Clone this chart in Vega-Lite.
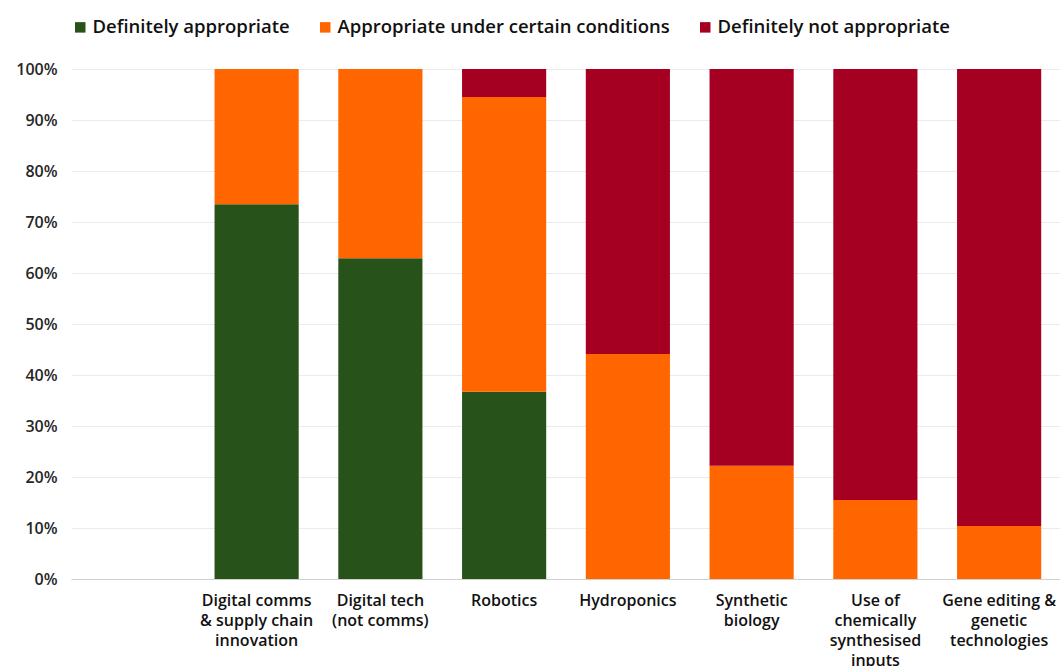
{
  "$schema": "https://vega.github.io/schema/vega-lite/v6.json",
  "width": 990,
  "height": 510,
  "padding": {"left": 15, "top": 18, "right": 0, "bottom": 0},
  "background": "white",
  "data": {
    "values": [
      {"category": "Digital comms & supply chain innovation", "response": "Definitely appropriate", "value": 0.735},
      {"category": "Digital comms & supply chain innovation", "response": "Appropriate under certain conditions", "value": 0.265},
      {"category": "Digital comms & supply chain innovation", "response": "Definitely not appropriate", "value": 0.0},
      {"category": "Digital tech (not comms)", "response": "Definitely appropriate", "value": 0.629},
      {"category": "Digital tech (not comms)", "response": "Appropriate under certain conditions", "value": 0.371},
      {"category": "Digital tech (not comms)", "response": "Definitely not appropriate", "value": 0.0},
      {"category": "Robotics", "response": "Definitely appropriate", "value": 0.367},
      {"category": "Robotics", "response": "Appropriate under certain conditions", "value": 0.578},
      {"category": "Robotics", "response": "Definitely not appropriate", "value": 0.055},
      {"category": "Hydroponics", "response": "Definitely appropriate", "value": 0.0},
      {"category": "Hydroponics", "response": "Appropriate under certain conditions", "value": 0.441},
      {"category": "Hydroponics", "response": "Definitely not appropriate", "value": 0.559},
      {"category": "Synthetic biology", "response": "Definitely appropriate", "value": 0.0},
      {"category": "Synthetic biology", "response": "Appropriate under certain conditions", "value": 0.222},
      {"category": "Synthetic biology", "response": "Definitely not appropriate", "value": 0.778},
      {"category": "Use of chemically synthesised inputs", "response": "Definitely appropriate", "value": 0.0},
      {"category": "Use of chemically synthesised inputs", "response": "Appropriate under certain conditions", "value": 0.155},
      {"category": "Use of chemically synthesised inputs", "response": "Definitely not appropriate", "value": 0.845},
      {"category": "Gene editing & genetic technologies", "response": "Definitely appropriate", "value": 0.0},
      {"category": "Gene editing & genetic technologies", "response": "Appropriate under certain conditions", "value": 0.104},
      {"category": "Gene editing & genetic technologies", "response": "Definitely not appropriate", "value": 0.896}
    ]
  },
  "transform": [
    {"calculate": "datum.response == 'Definitely appropriate' ? 0 : datum.response == 'Appropriate under certain conditions' ? 1 : 2", "as": "stackOrder"}
  ],
  "mark": {"type": "bar"},
  "encoding": {
    "x": {
      "field": "category",
      "type": "nominal",
      "scale": {
        "domain": [" ", "Digital comms & supply chain innovation", "Digital tech (not comms)", "Robotics", "Hydroponics", "Synthetic biology", "Use of chemically synthesised inputs", "Gene editing & genetic technologies"],
        "paddingInner": 0.32,
        "paddingOuter": 0.16
      },
      "axis": {
        "title": null,
        "labelAngle": 0,
        "ticks": false,
        "domain": true,
        "domainColor": "#d0d0d0",
        "labelPadding": 13,
        "labelFont": "Open Sans",
        "labelFontWeight": 600,
        "labelFontSize": 16,
        "labelColor": "#111111",
        "labelLineHeight": 20,
        "labelLimit": 200,
        "labelExpr": "datum.value == 'Digital comms & supply chain innovation' ? ['Digital comms', '& supply chain', 'innovation'] : datum.value == 'Digital tech (not comms)' ? ['Digital tech', '(not comms)'] : datum.value == 'Synthetic biology' ? ['Synthetic', 'biology'] : datum.value == 'Use of chemically synthesised inputs' ? ['Use of', 'chemically', 'synthesised', 'inputs'] : datum.value == 'Gene editing & genetic technologies' ? ['Gene editing &', 'genetic', 'technologies'] : datum.value"
      }
    },
    "y": {
      "field": "value",
      "type": "quantitative",
      "stack": "zero",
      "scale": {"domain": [0, 1], "nice": false},
      "axis": {
        "title": null,
        "values": [0, 0.1, 0.2, 0.3, 0.4, 0.5, 0.6, 0.7, 0.8, 0.9, 1.0],
        "format": ".0%",
        "domain": false,
        "ticks": false,
        "gridColor": "#ebebeb",
        "labelPadding": 14,
        "labelFont": "Open Sans",
        "labelFontWeight": 600,
        "labelFontSize": 16,
        "labelColor": "#262626"
      }
    },
    "color": {
      "field": "response",
      "type": "nominal",
      "sort": ["Definitely appropriate", "Appropriate under certain conditions", "Definitely not appropriate"],
      "scale": {
        "domain": ["Definitely appropriate", "Appropriate under certain conditions", "Definitely not appropriate"],
        "range": ["#27531a", "#ff6600", "#a50021"]
      },
      "legend": {
        "title": null,
        "orient": "top",
        "direction": "horizontal",
        "symbolType": "square",
        "symbolSize": 110,
        "symbolStrokeWidth": 0,
        "labelFont": "Open Sans",
        "labelFontWeight": 600,
        "labelFontSize": 18.5,
        "labelColor": "#111111",
        "labelLimit": 400,
        "columnPadding": 26,
        "labelOffset": 3,
        "offset": 32
      }
    },
    "order": {"field": "stackOrder", "type": "quantitative", "sort": "ascending"}
  },
  "config": {"view": {"stroke": null}}
}
